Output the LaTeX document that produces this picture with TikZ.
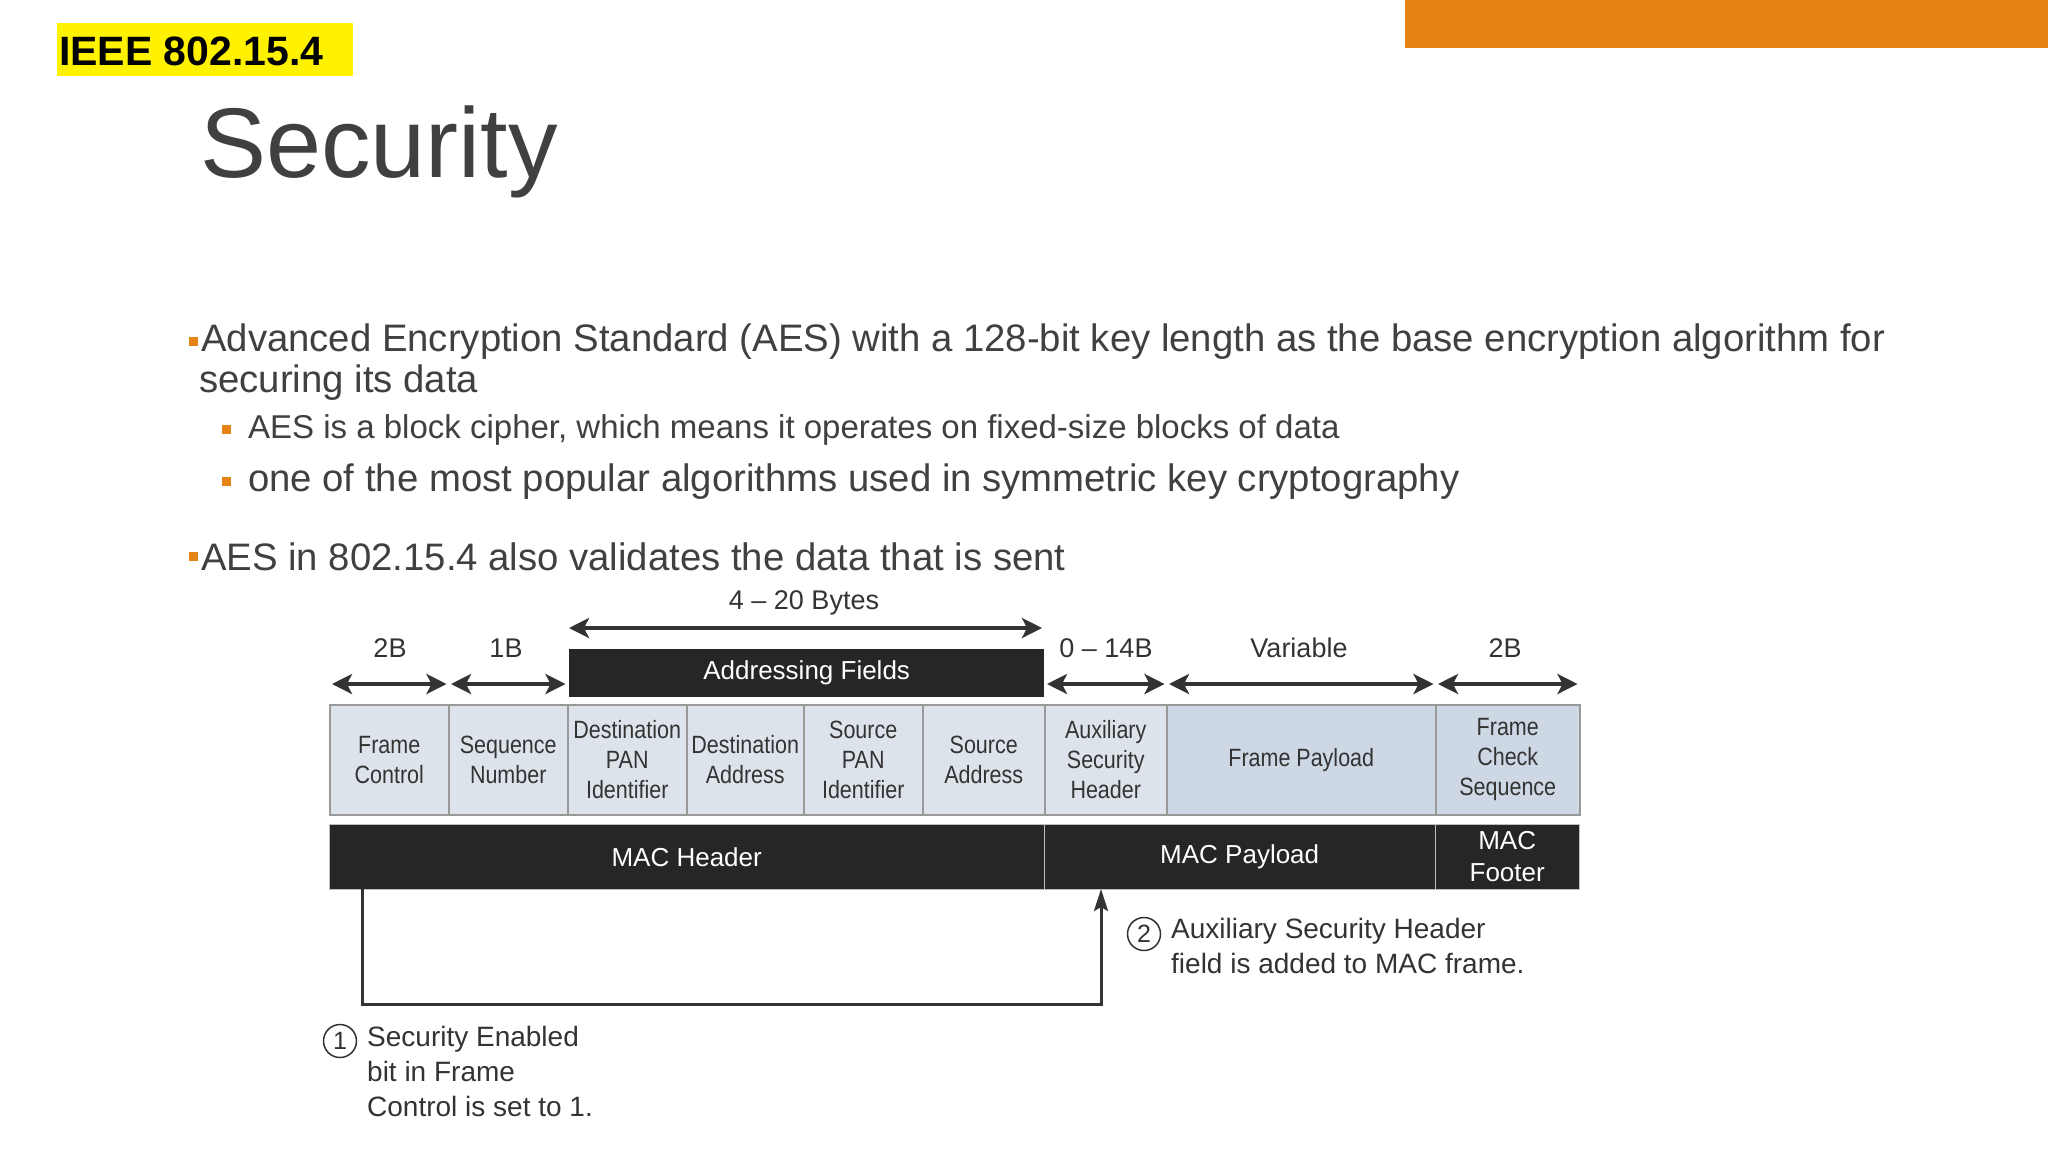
\documentclass[tikz,border=0pt]{standalone}
\usepackage{fontspec}
\setmainfont{Liberation Sans}
\newfontfamily\narrow[FakeStretch=0.86]{Liberation Sans}
\usetikzlibrary{arrows.meta}
\definecolor{orng}{HTML}{E58314}
\definecolor{txt}{HTML}{404040}
\definecolor{cellc}{HTML}{DDE3EA}
\definecolor{cellp}{HTML}{CDD8E4}
\definecolor{bar}{HTML}{262626}
\definecolor{dg}{HTML}{333333}
\begin{document}
\begin{tikzpicture}[x=1pt,y=-1pt,
  cell/.style={draw=gray!80,line width=1.5pt,fill=cellc,minimum height=110pt,inner sep=0pt,align=center,font=\narrow\fontsize{25}{30}\selectfont,text=dg,anchor=north west},
  barbox/.style={draw=gray!50,fill=bar,minimum height=65pt,inner sep=0pt,align=center,font=\fontsize{26}{32}\selectfont,text=white,anchor=north west},
  dim/.style={{Stealth[length=20pt,width=20pt,inset=5pt]}-{Stealth[length=20pt,width=20pt,inset=5pt]},line width=3.6pt,dg},
  dimlbl/.style={font=\fontsize{27}{30}\selectfont,text=dg},
  note/.style={font=\fontsize{28}{35}\selectfont,text=dg,align=left,anchor=north west,inner sep=0pt},
  num/.style={circle,draw=dg,line width=1.5pt,minimum size=33pt,inner sep=0pt,font=\fontsize{25}{25}\selectfont,text=dg},
  bul/.style={fill=orng,minimum size=9pt,inner sep=0pt},
  btext/.style={text=txt,anchor=west,inner sep=0pt}]
\useasboundingbox (0,0) rectangle (2048,1152);
\fill[white] (0,0) rectangle (2048,1152);
\fill[orng] (1405,0) rectangle (2048,48);
\fill[yellow] (57,23) rectangle (353,76);
\node[anchor=west,inner sep=0pt,font=\bfseries\fontsize{41}{44}\selectfont] (ieee) at (59,51) {IEEE 802.15.4};
\node[anchor=west,inner sep=0pt,text=txt,font=\fontsize{99}{105}\selectfont] (title) at (200,152) {Security};
% bullets
\node[bul] (b1) at (193,341) {};
\node[btext,font=\fontsize{38.3}{41}\selectfont] (t1) at (201,342) {Advanced Encryption Standard (AES) with a 128-bit key length as the base encryption algorithm for};
\node[btext,font=\fontsize{38.3}{41}\selectfont] (t1b) at (199,383) {securing its data};
\node[bul] (b2) at (226,429) {};
\node[btext,font=\fontsize{33}{36}\selectfont] (t2) at (248,430) {AES is a block cipher, which means it operates on fixed-size blocks of data};
\node[bul] (b3) at (226,481) {};
\node[btext,font=\fontsize{38.3}{41}\selectfont] (t3) at (248,482) {one of the most popular algorithms used in symmetric key cryptography};
\node[bul] (b4) at (193,556) {};
\node[btext,font=\fontsize{38.3}{41}\selectfont] (t4) at (201,557) {AES in 802.15.4 also validates the data that is sent};
% cells
\node[cell,minimum width=119pt] (c1) at (329,704) {Frame\\Control};
\node[cell,minimum width=119pt] (c2) at (448,704) {Sequence\\Number};
\node[cell,minimum width=119pt] (c3) at (567,704) {Destination\\PAN\\Identifier};
\node[cell,minimum width=117pt] (c4) at (686,704) {Destination\\Address};
\node[cell,minimum width=119pt] (c5) at (803,704) {Source\\PAN\\Identifier};
\node[cell,minimum width=122pt] (c6) at (922,704) {Source\\Address};
\node[cell,minimum width=122pt] (c7) at (1044,704) {Auxiliary\\Security\\Header};
\node[cell,fill=cellp,minimum width=269pt] (c8) at (1166,704) {Frame Payload};
\node[cell,fill=cellp,minimum width=144pt] (c9) at (1435,704) {Frame\\Check\\Sequence};
% bars
\node[barbox,minimum width=715pt] (mh) at (329,824) {MAC Header};
\node[barbox,minimum width=391pt] (mp) at (1044,824) {MAC Payload};
\node[barbox,minimum width=144pt] (mf) at (1435,824) {MAC\\Footer};
\node[barbox,minimum width=475pt,minimum height=48pt,draw=none] (af) at (569,649) {Addressing Fields};
% dimensions
\draw[dim] ([shift={(3,-20)}]c1.north west) -- ([shift={(-3,-20)}]c1.north east);
\node[dimlbl] (l1) at (390,648) {2B};
\draw[dim] ([shift={(3,-20)}]c2.north west) -- ([shift={(-3,-20)}]c2.north east);
\node[dimlbl] (l2) at (506,648) {1B};
\draw[dim] (569,628) -- (1042,628);
\node[dimlbl] (l3) at (804,603) {4 – 20 Bytes};
\draw[dim] ([shift={(3,-20)}]c7.north west) -- ([shift={(-3,-20)}]c7.north east);
\node[dimlbl] (l4) at (1106,648) {0 – 14B};
\draw[dim] ([shift={(3,-20)}]c8.north west) -- ([shift={(-3,-20)}]c8.north east);
\node[dimlbl] (l5) at (1299,648) {Variable};
\draw[dim] ([shift={(3,-20)}]c9.north west) -- ([shift={(-3,-20)}]c9.north east);
\node[dimlbl] (l6) at (1505,648) {2B};
% connector
\coordinate (s) at (362,889);
\coordinate (e) at (1101,889);
\draw[line width=3pt,dg,-{Stealth[length=22pt,width=14pt,inset=4pt]}] (s) -- (362,1004) -- (1101,1004) -- (e);
% notes
\node[num] (n1) at (340,1041) {1};
\node[note] (nt1) at (367,1026) {Security Enabled\\bit in Frame\\Control is set to 1.};
\node[num] (n2) at (1144,934) {2};
\node[note] (nt2) at (1171,918) {Auxiliary Security Header\\field is added to MAC frame.};
\end{tikzpicture}
\end{document}
